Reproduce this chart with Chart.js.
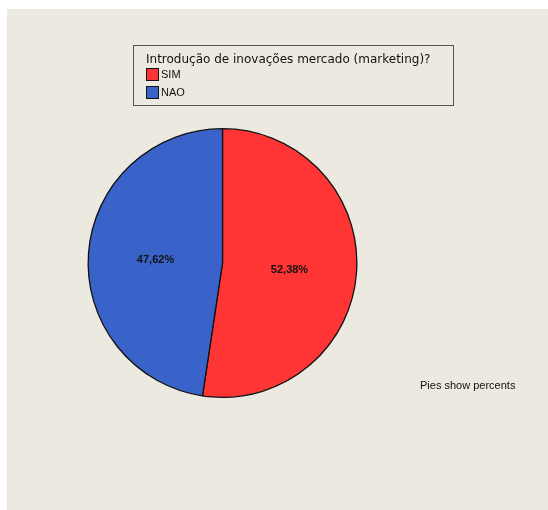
<!DOCTYPE html>
<html>
<head>
<meta charset="utf-8">
<script src="https://cdn.jsdelivr.net/npm/chart.js@4/dist/chart.umd.min.js"></script>
<style>
  html, body { margin: 0; padding: 0; background: #ffffff; }
  #wrap { width: 548px; height: 510px; position: relative; }
</style>
</head>
<body>
<div id="wrap"><canvas id="c" width="548" height="510"></canvas></div>
<script>
const categories = ['SIM', 'NAO'];
const percents = [52.38, 47.62];
const sliceColors = ['#FF3434', '#3A63C9'];
const legendTitle = 'Introdução de inovações mercado (marketing)?';
const footNote = 'Pies show percents';

const fmt = v => v.toFixed(2).replace('.', ',') + '%';

// Panel background, legend box, slice labels and note
const decorations = {
  id: 'decorations',
  beforeDraw(chart) {
    const ctx = chart.ctx;
    ctx.save();
    ctx.fillStyle = '#ECEAE0';
    ctx.fillRect(7, 9, 541, 501);
    ctx.restore();
  },
  afterDraw(chart) {
    const ctx = chart.ctx;
    ctx.save();
    // legend box
    ctx.strokeStyle = '#555555';
    ctx.lineWidth = 1;
    ctx.strokeRect(133.5, 45.5, 320, 60);
    ctx.fillStyle = '#111111';
    ctx.font = '12px "DejaVu Sans", Verdana, sans-serif';
    ctx.textBaseline = 'alphabetic';
    ctx.textAlign = 'left';
    ctx.fillText(legendTitle, 146, 63);
    ctx.font = '11px "Liberation Sans", Arial, sans-serif';
    ctx.textBaseline = 'middle';
    categories.forEach((name, i) => {
      const y = 68 + i * 18;
      ctx.fillStyle = sliceColors[i];
      ctx.fillRect(146.5, y + 0.5, 12, 12);
      ctx.strokeStyle = '#111111';
      ctx.strokeRect(146.5, y + 0.5, 12, 12);
      ctx.fillStyle = '#111111';
      ctx.fillText(name, 161, y + 7);
    });
    // slice percentages
    const meta = chart.getDatasetMeta(0);
    ctx.font = 'bold 11px "Liberation Sans", Arial, sans-serif';
    ctx.textAlign = 'center';
    ctx.fillStyle = '#111111';
    meta.data.forEach((arc, i) => {
      const p = arc.getCenterPoint();
      ctx.fillText(fmt(percents[i]), p.x, p.y + 2);
    });
    // note
    ctx.font = '11px "Liberation Sans", Arial, sans-serif';
    ctx.textAlign = 'left';
    ctx.fillText(footNote, 420, 386);
    ctx.restore();
  }
};

new Chart(document.getElementById('c'), {
  type: 'pie',
  data: {
    labels: categories,
    datasets: [{
      data: percents,
      backgroundColor: sliceColors,
      borderColor: '#111111',
      borderWidth: 1.3
    }]
  },
  options: {
    responsive: false,
    animation: false,
    layout: { padding: { left: 87.5, right: 190.5, top: 128, bottom: 112 } },
    plugins: {
      legend: { display: false },
      tooltip: { enabled: false }
    }
  },
  plugins: [decorations]
});
</script>
</body>
</html>
